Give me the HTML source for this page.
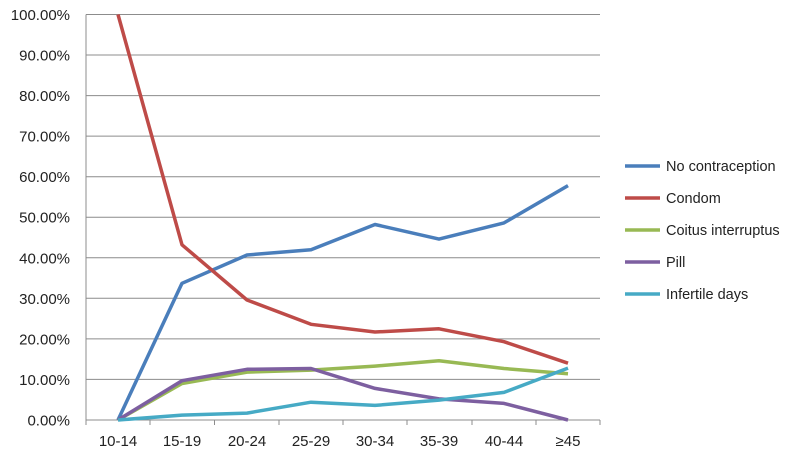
<!DOCTYPE html>
<html><head><meta charset="utf-8"><style>body{margin:0;background:#fff}svg{display:block}text{font-family:"Liberation Sans",sans-serif;fill:#222}</style></head><body>
<svg width="800" height="459" xmlns="http://www.w3.org/2000/svg">
<g stroke="#8c8c8c" stroke-width="1">
<line x1="86" y1="14.5" x2="600" y2="14.5"/><line x1="86" y1="55" x2="600" y2="55"/><line x1="86" y1="95.6" x2="600" y2="95.6"/><line x1="86" y1="136.1" x2="600" y2="136.1"/><line x1="86" y1="176.7" x2="600" y2="176.7"/><line x1="86" y1="217.2" x2="600" y2="217.2"/><line x1="86" y1="257.8" x2="600" y2="257.8"/><line x1="86" y1="298.3" x2="600" y2="298.3"/><line x1="86" y1="338.9" x2="600" y2="338.9"/><line x1="86" y1="379.4" x2="600" y2="379.4"/><line x1="86" y1="420" x2="600" y2="420"/>
<line x1="86" y1="14.5" x2="86" y2="425"/>
<line x1="150" y1="420" x2="150" y2="425"/><line x1="214.5" y1="420" x2="214.5" y2="425"/><line x1="279" y1="420" x2="279" y2="425"/><line x1="343" y1="420" x2="343" y2="425"/><line x1="407" y1="420" x2="407" y2="425"/><line x1="472" y1="420" x2="472" y2="425"/><line x1="536" y1="420" x2="536" y2="425"/><line x1="600" y1="420" x2="600" y2="425"/>
</g>
<g font-size="15" text-anchor="end">
<text x="70" y="20">100.00%</text><text x="70" y="60.5">90.00%</text><text x="70" y="101.1">80.00%</text><text x="70" y="141.6">70.00%</text><text x="70" y="182.2">60.00%</text><text x="70" y="222.7">50.00%</text><text x="70" y="263.3">40.00%</text><text x="70" y="303.8">30.00%</text><text x="70" y="344.4">20.00%</text><text x="70" y="384.9">10.00%</text><text x="70" y="425.5">0.00%</text>
</g>
<g font-size="15" text-anchor="middle">
<text x="118" y="446">10-14</text><text x="182" y="446">15-19</text><text x="247" y="446">20-24</text><text x="311" y="446">25-29</text><text x="375" y="446">30-34</text><text x="439" y="446">35-39</text><text x="504" y="446">40-44</text><text x="568" y="446">≥45</text>
</g>
<g fill="none" stroke-width="3.5" stroke-linejoin="round">
<polyline stroke="#4a7ebb" points="118,420 182,283.3 247,255 311,249.7 375,224.5 439,239.1 504,222.9 568,185.6"/>
<polyline stroke="#be4b48" points="118,14.5 182,244.8 247,300 311,324.3 375,332 439,328.8 504,341.7 568,363.2"/>
<polyline stroke="#98b954" points="118,420 182,383.5 247,372.1 311,370.1 375,366.1 439,360.8 504,368.5 568,373.8"/>
<polyline stroke="#7d5fa0" points="118,420 182,380.7 247,369.3 311,368.5 375,388.4 439,398.9 504,403.4 568,420"/>
<polyline stroke="#46aac5" points="118,420 182,415.1 247,413.1 311,402.2 375,405.4 439,400.1 504,392.4 568,368.1"/>
</g>
<g stroke-width="3.5">
<line x1="625" y1="166" x2="660" y2="166" stroke="#4a7ebb"/>
<line x1="625" y1="198" x2="660" y2="198" stroke="#be4b48"/>
<line x1="625" y1="230" x2="660" y2="230" stroke="#98b954"/>
<line x1="625" y1="262" x2="660" y2="262" stroke="#7d5fa0"/>
<line x1="625" y1="294" x2="660" y2="294" stroke="#46aac5"/>
</g>
<g font-size="14.5">
<text x="666" y="171">No contraception</text><text x="666" y="203">Condom</text><text x="666" y="235">Coitus interruptus</text><text x="666" y="267">Pill</text><text x="666" y="299">Infertile days</text>
</g>
</svg>
</body></html>
